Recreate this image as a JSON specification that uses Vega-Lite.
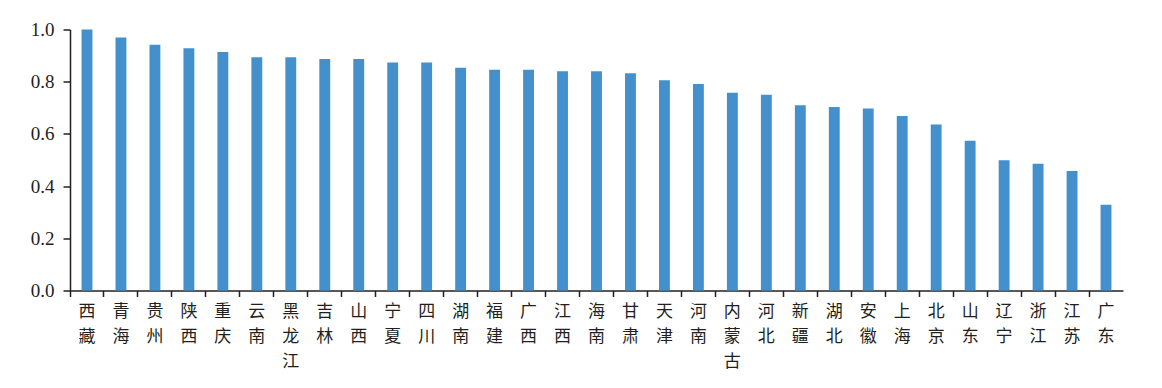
{
  "$schema": "https://vega.github.io/schema/vega-lite/v6.json",
  "autosize": {"type": "none"},
  "padding": {"left": 70, "top": 29.5, "right": 39, "bottom": 97.5},
  "width": 1053,
  "height": 261,
  "background": "white",
  "config": {"view": {"stroke": null}},
  "data": {
    "values": [
      {"province": "西藏", "value": 1.0},
      {"province": "青海", "value": 0.969},
      {"province": "贵州", "value": 0.942},
      {"province": "陕西", "value": 0.928},
      {"province": "重庆", "value": 0.914},
      {"province": "云南", "value": 0.894},
      {"province": "黑龙江", "value": 0.894},
      {"province": "吉林", "value": 0.887},
      {"province": "山西", "value": 0.887},
      {"province": "宁夏", "value": 0.874},
      {"province": "四川", "value": 0.874},
      {"province": "湖南", "value": 0.853},
      {"province": "福建", "value": 0.846},
      {"province": "广西", "value": 0.846},
      {"province": "江西", "value": 0.84},
      {"province": "海南", "value": 0.84},
      {"province": "甘肃", "value": 0.832},
      {"province": "天津", "value": 0.806},
      {"province": "河南", "value": 0.791},
      {"province": "内蒙古", "value": 0.758},
      {"province": "河北", "value": 0.75},
      {"province": "新疆", "value": 0.71},
      {"province": "湖北", "value": 0.703},
      {"province": "安徽", "value": 0.697},
      {"province": "上海", "value": 0.669},
      {"province": "北京", "value": 0.636},
      {"province": "山东", "value": 0.574},
      {"province": "辽宁", "value": 0.499},
      {"province": "浙江", "value": 0.486},
      {"province": "江苏", "value": 0.458},
      {"province": "广东", "value": 0.329}
    ]
  },
  "mark": {"type": "bar", "color": "#4390cd", "width": {"band": 0.32}},
  "encoding": {
    "x": {
      "field": "province",
      "type": "nominal",
      "sort": null,
      "scale": {"paddingInner": 0, "paddingOuter": 0},
      "axis": {
        "title": null,
        "bandPosition": 0,
        "labelAngle": 0,
        "labelExpr": "split(datum.label, '')",
        "labelAlign": "center",
        "labelBaseline": "top",
        "labelFont": "Noto Sans CJK SC",
        "labelFontSize": 17,
        "labelLineHeight": 25,
        "labelColor": "#231f20",
        "labelPadding": 7,
        "tickSize": 6,
        "tickColor": "#231f20",
        "tickWidth": 1.5,
        "domainColor": "#231f20",
        "domainWidth": 1.5,
        "labelBound": false,
        "labelOverlap": false
      }
    },
    "y": {
      "field": "value",
      "type": "quantitative",
      "scale": {"domain": [0, 1], "nice": false},
      "axis": {
        "title": null,
        "values": [0, 0.2, 0.4, 0.6, 0.8, 1.0],
        "format": ".1f",
        "grid": false,
        "labelFont": "Liberation Serif",
        "labelFontSize": 19,
        "labelColor": "#231f20",
        "labelPadding": 9,
        "tickSize": 7,
        "tickColor": "#231f20",
        "tickWidth": 1.5,
        "domainColor": "#231f20",
        "domainWidth": 1.5
      }
    }
  }
}
